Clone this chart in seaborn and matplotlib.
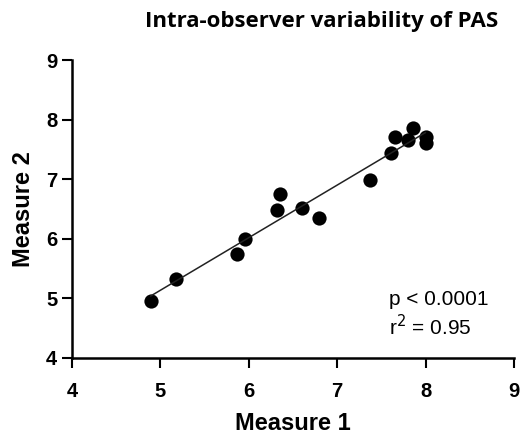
import numpy as np
import pandas as pd
import seaborn as sns
import matplotlib
matplotlib.use("Agg")
import matplotlib.pyplot as plt

measure1 = [4.89, 5.18, 5.87, 5.96, 6.32, 6.35, 6.60, 6.79, 7.37, 7.61, 7.65, 7.80, 7.86, 8.00, 8.00]
measure2 = [4.96, 5.32, 5.74, 6.00, 6.48, 6.75, 6.51, 6.34, 6.99, 7.44, 7.71, 7.66, 7.86, 7.70, 7.61]
ticks = [4, 5, 6, 7, 8, 9]
stats_text = ["p < 0.0001", "r$^2$ = 0.95"]

df = pd.DataFrame({"m1": measure1, "m2": measure2})

sns.set_style("ticks")
plt.rcParams['font.family'] = ['Liberation Sans', 'DejaVu Sans']
plt.rcParams['text.color'] = 'black'
plt.rcParams['axes.labelcolor'] = 'black'
plt.rcParams['xtick.color'] = 'black'
plt.rcParams['ytick.color'] = 'black'

fig = plt.figure(figsize=(5.25, 4.38), dpi=100)
ax = fig.add_axes([0.137, 0.183, 0.842, 0.680])

sns.regplot(data=df, x="m1", y="m2", ax=ax, ci=None, truncate=True,
            scatter_kws={"s": 105, "color": "black", "alpha": 1, "linewidths": 0},
            line_kws={"color": "#222222", "lw": 1.1})

ax.set_xlim(4, 9)
ax.set_ylim(4, 9)
ax.set_xticks(ticks)
ax.set_yticks(ticks)
ax.set_xticklabels([str(t) for t in ticks], fontsize=14.5, fontweight="bold")
ax.set_yticklabels([str(t) for t in ticks], fontsize=14.5, fontweight="bold")
ax.tick_params(width=1.5, length=7.5, direction="out")
ax.tick_params(axis="x", pad=10)
ax.tick_params(axis="y", pad=3)
for s in ["left", "bottom"]:
    ax.spines[s].set_linewidth(1.8)
    ax.spines[s].set_color("black")
sns.despine(ax=ax)

ax.set_xlabel("Measure 1", fontsize=17, fontweight="bold", labelpad=8)
ax.set_ylabel("Measure 2", fontsize=17, fontweight="bold", labelpad=8)

ax.text(7.59, 4.98, stats_text[0], fontsize=15, va="center", ha="left")
ax.text(7.59, 4.53, stats_text[1], fontsize=15, va="center", ha="left")

fig.text(0.612, 0.952, "Intra-observer variability of PAS", fontsize=16,
         fontweight="bold", ha="center", va="center", family=["Open Sans", "DejaVu Sans"])

fig.savefig("out.png", dpi=100, facecolor="white")
